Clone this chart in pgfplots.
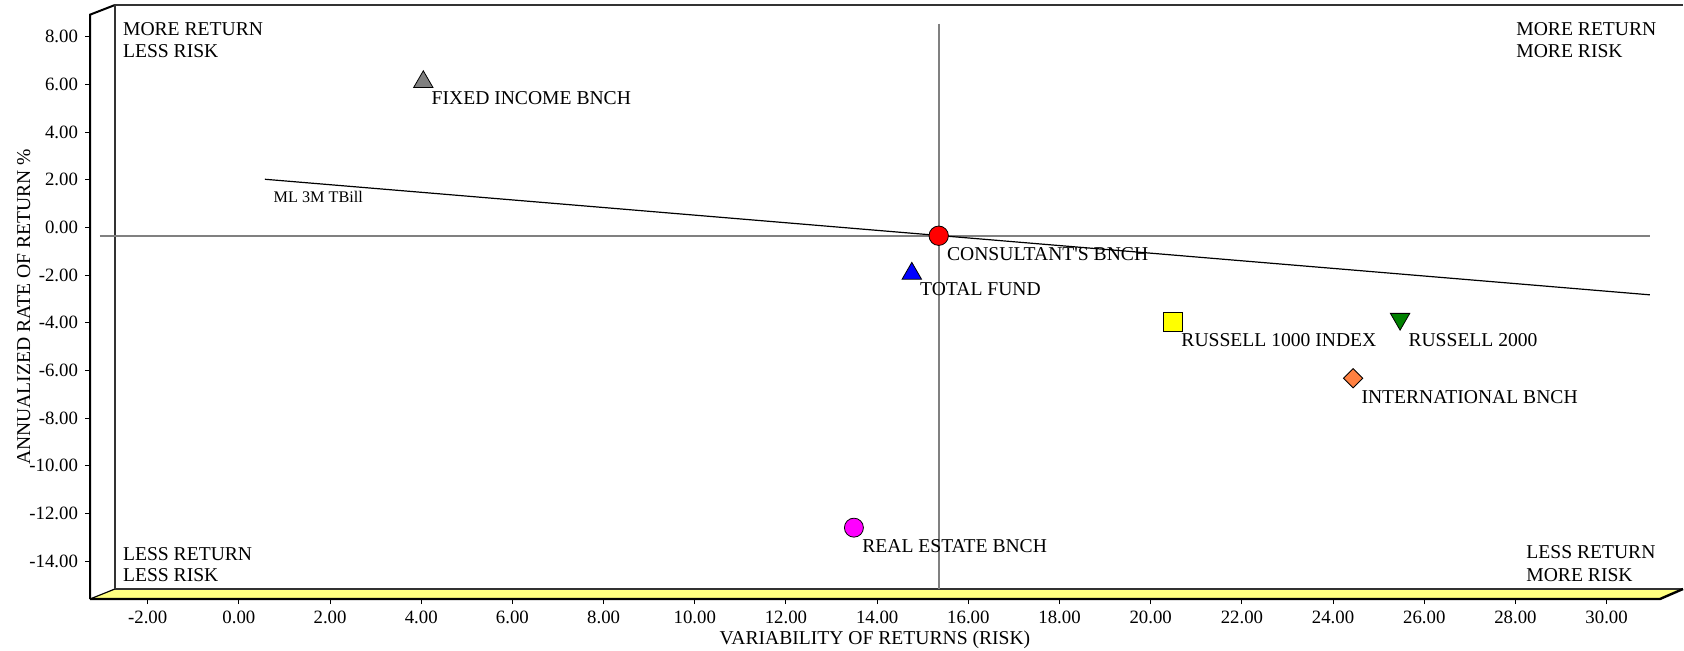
\documentclass[border=0pt]{standalone}
\usepackage{fontspec}
\setmainfont{Liberation Serif}
\usepackage{pgfplots}
\pgfplotsset{compat=1.18}

\definecolor{floorylw}{RGB}{255,255,128}
\definecolor{midgray}{RGB}{128,128,128}
\definecolor{fixgray}{RGB}{128,128,128}
\definecolor{rusylw}{RGB}{255,255,0}
\definecolor{rusgrn}{RGB}{0,128,0}
\definecolor{intorg}{RGB}{255,128,64}
\definecolor{reamag}{RGB}{255,0,255}
\definecolor{conred}{RGB}{255,0,0}
\definecolor{totblu}{RGB}{0,0,255}

\newcommand\lbl{\fontsize{9.8bp}{11bp}\selectfont}

\pgfplotsset{
  ptlab/.style 2 args={
    nodes near coords={#1},
    every node near coord/.append style={anchor=base west, xshift=4bp,
      yshift=#2, text=black, font=\lbl, inner sep=0pt}},
  pt/.style={only marks, mark options={draw=black, line width=0.4bp}},
}

\begin{document}
\begin{tikzpicture}[x=1bp,y=1bp]
\useasboundingbox (0,0) rectangle (842,325);
\begin{axis}[
  at={(45bp,25.5bp)}, anchor=south west,
  width=796.5bp, height=297bp, scale only axis,
  xmin=-3.266, xmax=31.676, ymin=-15.594, ymax=9.333,
  clip=false,
  axis line style={draw=none},
  xtick pos=left, ytick pos=left,
  tick align=outside, major tick length=2.5bp,
  xtick={-2,0,...,30}, ytick={-14,-12,...,8},
  tick style={black, line width=0.5bp},
  ticklabel style={font=\fontsize{9.4bp}{11bp}\selectfont},
  /pgf/number format/fixed, /pgf/number format/zerofill,
  /pgf/number format/precision=2,
  /pgf/number format/assume math mode=true,
]
% 3D frame: floor and left wall
\fill[floorylw] (axis cs:-3.266,-15.594) -- (axis cs:-2.718,-15.174)
  -- (axis cs:31.676,-15.174) -- (axis cs:31.17,-15.594) -- cycle;
\draw[black!80, line width=0.7bp] (axis cs:-2.718,-15.174) -- (axis cs:31.676,-15.174);
\draw[black, line width=1.2bp] (axis cs:-3.266,-15.594) -- (axis cs:31.17,-15.594)
  -- (axis cs:31.676,-15.174);
\draw[black, line width=0.6bp] (axis cs:-3.266,-15.594) -- (axis cs:-2.718,-15.174);
\draw[black, line width=1bp] (axis cs:-3.266,-15.594) -- (axis cs:-3.266,8.926)
  -- (axis cs:-2.718,9.333);
\draw[black!80, line width=0.7bp] (axis cs:-2.718,-15.174) -- (axis cs:-2.718,9.333)
  -- (axis cs:31.676,9.333);

% points
\addplot[pt, mark=triangle*, mark size=5.6bp,
  mark options={fill=fixgray, yshift=-1.4bp}, ptlab={FIXED INCOME BNCH}{-11.1bp}]
  coordinates {(4.045,6.22)};
\addplot[pt, mark=*, mark size=4.85bp, mark options={fill=conred},
  ptlab={CONSULTANT\textquotesingle S BNCH}{-12.5bp}]
  coordinates {(15.35,-0.35)};
\addplot[pt, mark=triangle*, mark size=5.6bp,
  mark options={fill=totblu, yshift=-1.4bp}, ptlab={TOTAL FUND}{-11.1bp}]
  coordinates {(14.76,-1.82)};
\addplot[pt, mark=square*, mark size=4.85bp, mark options={fill=rusylw},
  ptlab={RUSSELL 1000 INDEX}{-12.5bp}]
  coordinates {(20.49,-3.96)};
\addplot[pt, mark=triangle*, mark size=5.6bp,
  mark options={fill=rusgrn, rotate=180, yshift=-1.4bp}, ptlab={RUSSELL 2000}{-13.9bp}]
  coordinates {(25.47,-3.96)};
\addplot[pt, mark=square*, mark size=3.41bp,
  mark options={fill=intorg, rotate=45}, ptlab={INTERNATIONAL BNCH}{-12.5bp}]
  coordinates {(24.44,-6.33)};
\addplot[pt, mark=*, mark size=4.75bp, mark options={fill=reamag},
  ptlab={REAL ESTATE BNCH}{-12.5bp}]
  coordinates {(13.49,-12.60)};

% crosshair through the benchmark and the capital market line
\addplot[midgray, line width=0.8bp, no marks] coordinates {(15.35,8.55) (15.35,-15.174)};
\addplot[midgray, line width=0.8bp, no marks] coordinates {(-3.05,-0.35) (30.95,-0.35)};
\addplot[black, line width=0.6bp, no marks] coordinates {(0.57,2.02) (30.95,-2.83)};
\end{axis}

% quadrant notes and axis titles
\begin{scope}[every node/.style={inner sep=0pt, font=\lbl}]
\node[anchor=base west] at (61.35,307.5) {MORE RETURN};
\node[anchor=base west] at (61.35,296.35) {LESS RISK};
\node[anchor=base west] at (61.35,45) {LESS RETURN};
\node[anchor=base west] at (61.35,34.15) {LESS RISK};
\node[anchor=base west] at (758,307.5) {MORE RETURN};
\node[anchor=base west] at (758,296.5) {MORE RISK};
\node[anchor=base west] at (763,45.85) {LESS RETURN};
\node[anchor=base west] at (763,34.15) {MORE RISK};
\node[anchor=base] at (437.5,3) {VARIABILITY OF RETURNS (RISK)};
\node[anchor=base, rotate=90] at (15,171.5) {ANNUALIZED RATE OF RETURN \%};
\node[anchor=base west, font=\fontsize{8.1bp}{9bp}\selectfont] at (136.65,224) {ML 3M TBill};
\end{scope}
\end{tikzpicture}
\end{document}
